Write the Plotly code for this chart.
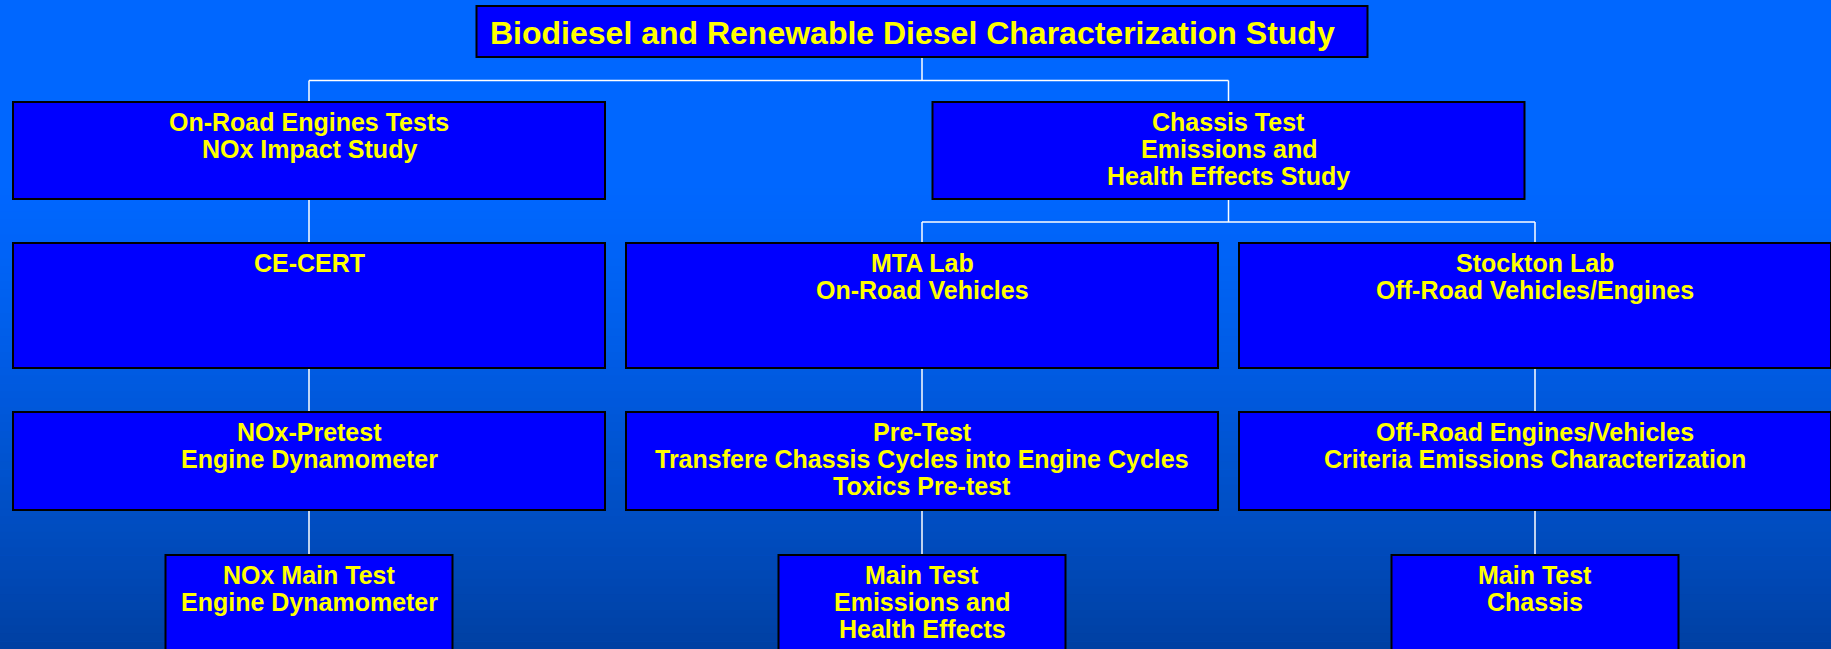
import plotly.graph_objects as go

# ---- chart data (org-chart structure) ----
labels = [
    "Biodiesel and Renewable Diesel Characterization Study",
    "On-Road Engines Tests<br>NOx Impact Study",
    "Chassis Test<br>Emissions and<br>Health Effects Study",
    "CE-CERT",
    "MTA Lab<br>On-Road Vehicles",
    "Stockton Lab<br>Off-Road Vehicles/Engines",
    "NOx-Pretest<br>Engine Dynamometer",
    "Pre-Test<br>Transfere Chassis Cycles into Engine Cycles<br>Toxics Pre-test",
    "Off-Road Engines/Vehicles<br>Criteria Emissions Characterization",
    "NOx Main Test<br>Engine Dynamometer",
    "Main Test<br>Emissions and<br>Health Effects",
    "Main Test<br>Chassis",
]
parents = [None, 0, 0, 1, 2, 2, 3, 4, 5, 6, 7, 8]
levels = [0, 1, 1, 2, 2, 2, 3, 3, 3, 4, 4, 4]
columns = [1, 0, 1.5, 0, 1, 2, 0, 1, 2, 0, 1, 2]

# ---- layout geometry (pixels) ----
W, H = 1831, 649
COL0, COL_STEP = 309, 613
row_top = {0: 6, 1: 102, 2: 243, 3: 412, 4: 555}
row_bot = {0: 57, 1: 199, 2: 368, 3: 510, 4: 720}
box_w = {0: 891, 1: 592, 2: 592, 3: 592, 4: 287}

BOX_FILL = "#0000FF"
TEXT_COL = "#FFFF00"
FONT = "Arial, Liberation Sans, sans-serif"

def cx(i):
    return COL0 + COL_STEP * columns[i]

shapes = []

# background gradient
top_rgb = (0, 103, 255)
bot_rgb = (0, 64, 162)
start_y = 180
n = 60
shapes.append(dict(type="rect", xref="x", yref="y", x0=0, x1=W, y0=0, y1=start_y,
                   fillcolor="rgb(%d,%d,%d)" % top_rgb, line=dict(width=0), layer="below"))
step = (H - start_y) / n
for k in range(n):
    t = (k + 0.5) / n
    t = t ** 1.3
    c = tuple(int(round(top_rgb[j] + (bot_rgb[j] - top_rgb[j]) * t)) for j in range(3))
    shapes.append(dict(type="rect", xref="x", yref="y", x0=0, x1=W,
                       y0=start_y + k * step, y1=start_y + (k + 1) * step + 0.6,
                       fillcolor="rgb(%d,%d,%d)" % c, line=dict(width=0), layer="below"))

# connectors
LINE = dict(color="white", width=1.5)
children = {}
for i, p in enumerate(parents):
    if p is not None:
        children.setdefault(p, []).append(i)
for p, kids in children.items():
    lp = levels[p]
    y_pb = row_bot[lp]
    y_ct = row_top[lp + 1]
    if len(kids) == 1 and abs(cx(kids[0]) - cx(p)) < 1:
        shapes.append(dict(type="line", x0=cx(p), x1=cx(p), y0=y_pb, y1=y_ct, line=LINE))
    else:
        ybus = (y_pb + y_ct) / 2 + 1
        shapes.append(dict(type="line", x0=cx(p), x1=cx(p), y0=y_pb, y1=ybus, line=LINE))
        xs = [cx(k) for k in kids]
        shapes.append(dict(type="line", x0=min(xs), x1=max(xs), y0=ybus, y1=ybus, line=LINE))
        for k in kids:
            shapes.append(dict(type="line", x0=cx(k), x1=cx(k), y0=ybus, y1=y_ct, line=LINE))

# boxes
annotations = []
for i, lab in enumerate(labels):
    lv = levels[i]
    x0 = cx(i) - box_w[lv] / 2
    x1 = cx(i) + box_w[lv] / 2
    shapes.append(dict(type="rect", x0=x0, x1=x1, y0=row_top[lv], y1=row_bot[lv],
                       fillcolor=BOX_FILL, line=dict(color="black", width=2)))
    if lv == 0:
        annotations.append(dict(x=cx(i) - 10, y=(row_top[lv] + row_bot[lv]) / 2 + 1,
                                text=lab, showarrow=False, xanchor="center", yanchor="middle",
                                font=dict(family=FONT, size=32, color=TEXT_COL, weight="bold")))
    else:
        for j, line in enumerate(lab.split("<br>")):
            annotations.append(dict(x=cx(i), y=row_top[lv] + 20 + 26.8 * j,
                                    text=line, showarrow=False, xanchor="center", yanchor="middle",
                                    font=dict(family=FONT, size=25, color=TEXT_COL, weight="bold")))

fig = go.Figure()
fig.update_layout(
    width=W, height=H,
    margin=dict(l=0, r=0, t=0, b=0),
    paper_bgcolor="rgb(0,103,255)", plot_bgcolor="rgba(0,0,0,0)",
    xaxis=dict(range=[0, W], visible=False, fixedrange=True),
    yaxis=dict(range=[H, 0], visible=False, fixedrange=True),
    shapes=shapes, annotations=annotations, showlegend=False,
)
fig.write_html(
    "out.html",
    config={"displayModeBar": False},
    post_script="document.body.style.margin='0';document.body.style.overflow='hidden';",
)
